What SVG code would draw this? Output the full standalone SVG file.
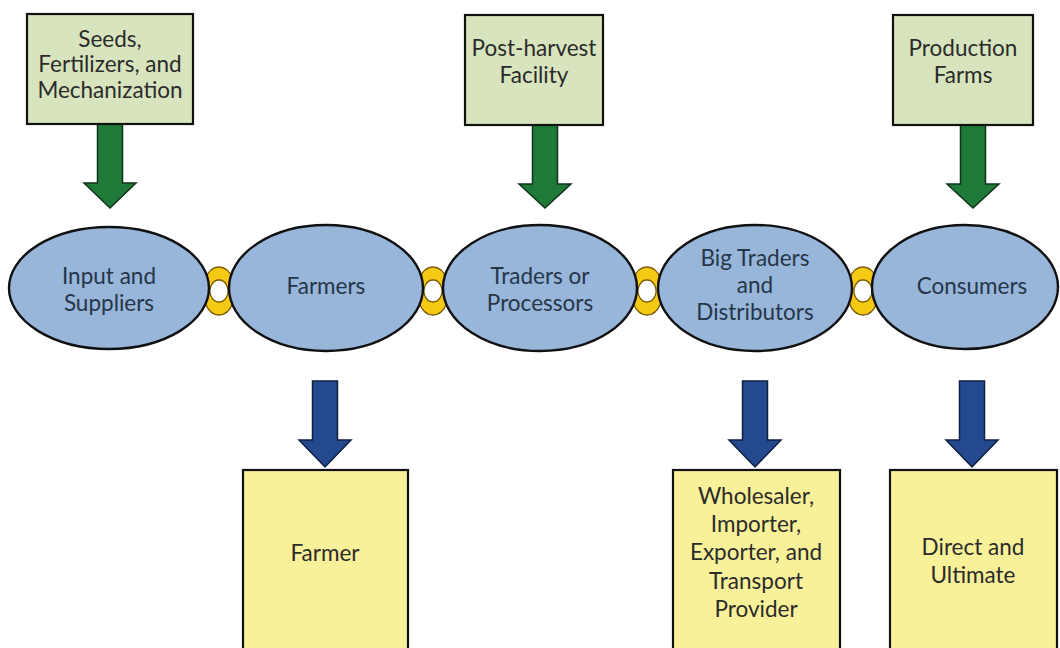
<svg xmlns="http://www.w3.org/2000/svg" width="1060" height="648" viewBox="0 0 1060 648">
<style>
.gbox{fill:#d7e4bd;stroke:#111;stroke-width:2.2}
.ybox{fill:#f9f09a;stroke:#111;stroke-width:2.2}
.ell{fill:#98b5da;stroke:#111;stroke-width:2.4}
.garrow{fill:#1f7a3a;stroke:#0f3318;stroke-width:1.5;stroke-linejoin:miter}
.barrow{fill:#24498f;stroke:#0f1f40;stroke-width:1.5;stroke-linejoin:miter}
.ring{fill:#f6c915;stroke:#7a5c00;stroke-width:1.3;fill-rule:evenodd}
text{font-family:Lato,"Open Sans","Liberation Sans",sans-serif;font-size:22.5px;text-anchor:middle}
.bt{fill:#2b2b2b}
.et{fill:#253648}
</style>
<rect width="1060" height="648" fill="#ffffff"/>
<g id="connectors">
<path class="garrow" d="M97.5,124 H122.5 V183 H136 L110,208 L84,183 H97.5 Z"/>
<path class="garrow" d="M532.5,125 H557.5 V184 H571 L545,208 L519,184 H532.5 Z"/>
<path class="garrow" d="M960.5,125 H985.5 V184 H999 L973,208 L947,184 H960.5 Z"/>
<path class="barrow" d="M312.5,381 H337.5 V440 H351 L325,467 L299,440 H312.5 Z"/>
<path class="barrow" d="M742.5,381 H767.5 V440 H781 L755,467 L729,440 H742.5 Z"/>
<path class="barrow" d="M959.5,381 H984.5 V440 H998 L972,467 L946,440 H959.5 Z"/>
<g id="links">
<path class="ring" d="M219,267 a16,24 0 1,0 0.01,0 Z M219,280 a9,11 0 1,0 0.01,0 Z"/>
<path class="ring" d="M433,267 a16,24 0 1,0 0.01,0 Z M433,280 a9,11 0 1,0 0.01,0 Z"/>
<path class="ring" d="M647,267 a16,24 0 1,0 0.01,0 Z M647,280 a9,11 0 1,0 0.01,0 Z"/>
<path class="ring" d="M863,267 a16,24 0 1,0 0.01,0 Z M863,280 a9,11 0 1,0 0.01,0 Z"/>
</g>
</g>
<g id="seeds">
<rect class="gbox" x="27" y="14" width="166" height="110"/>
<text class="bt" x="110" y="47">Seeds,</text>
<text class="bt" x="110" y="72">Fertilizers, and</text>
<text class="bt" x="110" y="98">Mechanization</text>
</g>
<g id="postharvest">
<rect class="gbox" x="465" y="15" width="138" height="110"/>
<text class="bt" x="534" y="56">Post-harvest</text>
<text class="bt" x="534" y="83">Facility</text>
</g>
<g id="production">
<rect class="gbox" x="893" y="15" width="140" height="110"/>
<text class="bt" x="963" y="56">Production</text>
<text class="bt" x="963" y="83">Farms</text>
</g>
<g id="input">
<ellipse class="ell" cx="109" cy="288" rx="100" ry="61"/>
<text class="et" x="109" y="284">Input and</text>
<text class="et" x="109" y="311">Suppliers</text>
</g>
<g id="farmers">
<ellipse class="ell" cx="326" cy="288" rx="97" ry="63"/>
<text class="et" x="326" y="294">Farmers</text>
</g>
<g id="traders">
<ellipse class="ell" cx="540" cy="288" rx="97" ry="63"/>
<text class="et" x="540" y="284">Traders or</text>
<text class="et" x="540" y="311">Processors</text>
</g>
<g id="bigtraders">
<ellipse class="ell" cx="755" cy="288" rx="97" ry="63"/>
<text class="et" x="755" y="266">Big Traders</text>
<text class="et" x="755" y="293">and</text>
<text class="et" x="755" y="320">Distributors</text>
</g>
<g id="consumers">
<ellipse class="ell" cx="965" cy="287" rx="93" ry="62"/>
<text class="et" x="972" y="294">Consumers</text>
</g>
<g id="farmer">
<rect class="ybox" x="243" y="470" width="165" height="200"/>
<text class="bt" x="325" y="561">Farmer</text>
</g>
<g id="wholesaler">
<rect class="ybox" x="673" y="470" width="167" height="200"/>
<text class="bt" x="756" y="504">Wholesaler,</text>
<text class="bt" x="756" y="532">Importer,</text>
<text class="bt" x="756" y="560">Exporter, and</text>
<text class="bt" x="756" y="589">Transport</text>
<text class="bt" x="756" y="617">Provider</text>
</g>
<g id="direct">
<rect class="ybox" x="890" y="470" width="167" height="200"/>
<text class="bt" x="973" y="555">Direct and</text>
<text class="bt" x="973" y="583">Ultimate</text>
</g>
</svg>
